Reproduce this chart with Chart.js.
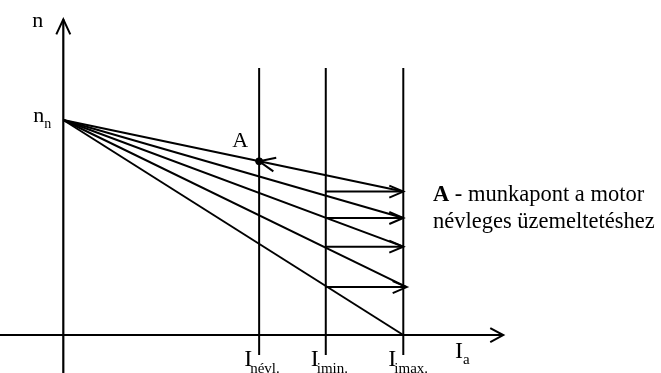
<!DOCTYPE html>
<html>
<head>
<meta charset="utf-8">
<script src="https://cdn.jsdelivr.net/npm/chart.js@4.4.1/dist/chart.umd.min.js"></script>
<style>
  html, body { margin: 0; padding: 0; background: #fff; }
  #abra { display: block; }
</style>
</head>
<body>
<canvas id="abra" width="661" height="373"></canvas>
<script>
// Adatok (tetszőleges egységek: Ia vízszintesen, n függőlegesen)
const nNevleges = 10;                         // n_n, az üresjárási fordulatszám
const aramJelek = ['névl.', 'imin.', 'imax.'];
const aramErtekek = [5.76, 7.72, 10.0];       // I_névl., I_imin., I_imax.
// jelleggörbék végpontjai I_imax-nál (felülről lefelé)
const jellegVegX = [10.0, 10.0, 10.0, 10.1, 10.0];
const jellegVegY = [6.67, 5.44, 4.11, 2.23, 0];
// vízszintes nyilak (I_imin -> I_imax) magasságai
const lepcsoY = [6.67, 5.44, 4.11, 2.23];
const lepcsoVegX = [10.0, 10.0, 10.0, 10.1];
// A munkapont
const munkapontX = 5.76;
const munkapontY = 8.08;

const fekete = '#000000';

function vonal(pontok, vastag) {
    return {
        data: pontok,
        showLine: true,
        borderColor: fekete,
        borderWidth: vastag || 2,
        pointRadius: 0,
        fill: false
    };
}

const adatsorok = [];
// tengelyek
adatsorok.push(vonal([{x: -1.9, y: 0}, {x: 12.94, y: 0}], 2.2));
adatsorok.push(vonal([{x: 0, y: -1.8}, {x: 0, y: 14.68}], 2.2));
// függőleges áramvonalak
aramErtekek.forEach(i => adatsorok.push(vonal([{x: i, y: -0.93}, {x: i, y: 12.42}])));
// jelleggörbék n_n-ből
jellegVegY.forEach((y, k) => adatsorok.push(vonal([{x: 0, y: nNevleges}, {x: jellegVegX[k], y: y}])));
// vízszintes nyilak
lepcsoY.forEach((y, k) => adatsorok.push(vonal([{x: aramErtekek[1], y: y}, {x: lepcsoVegX[k], y: y}])));
// A pont
adatsorok.push({
    data: [{x: munkapontX, y: munkapontY}],
    showLine: false,
    pointRadius: 3.5,
    pointBackgroundColor: fekete,
    pointBorderColor: fekete
});

// nyílhegy rajzolása (nyitott, V alakú)
function nyilhegy(ctx, x0, y0, x1, y1, hossz, szel) {
    const a = Math.atan2(y1 - y0, x1 - x0);
    ctx.beginPath();
    ctx.moveTo(x1 - hossz * Math.cos(a) + szel * Math.sin(a), y1 - hossz * Math.sin(a) - szel * Math.cos(a));
    ctx.lineTo(x1, y1);
    ctx.lineTo(x1 - hossz * Math.cos(a) - szel * Math.sin(a), y1 - hossz * Math.sin(a) + szel * Math.cos(a));
    ctx.stroke();
}

const nyilakPlugin = {
    id: 'nyilak',
    afterDatasetsDraw(chart) {
        const ctx = chart.ctx;
        const xs = chart.scales.x, ys = chart.scales.y;
        const px = v => xs.getPixelForValue(v);
        const py = v => ys.getPixelForValue(v);
        ctx.save();
        ctx.strokeStyle = fekete;
        ctx.lineWidth = 2;
        ctx.lineJoin = 'miter';
        // tengely nyilak
        nyilhegy(ctx, px(0), py(0), px(12.94), py(0), 13, 7);
        nyilhegy(ctx, px(0), py(0), px(0), py(14.68), 15, 7);
        // vízszintes nyilak vége
        lepcsoY.forEach((y, k) => nyilhegy(ctx, px(aramErtekek[1]), py(y), px(lepcsoVegX[k]), py(y), 14, 6));
        // A <- felső jelleggörbe
        nyilhegy(ctx, px(jellegVegX[0]), py(jellegVegY[0]), px(munkapontX), py(munkapontY), 16, 7);
        ctx.restore();
    }
};

const feliratPlugin = {
    id: 'feliratok',
    afterDraw(chart) {
        const ctx = chart.ctx;
        const xs = chart.scales.x, ys = chart.scales.y;
        const px = v => xs.getPixelForValue(v);
        const py = v => ys.getPixelForValue(v);
        const betu = "'Liberation Serif', 'Times New Roman', serif";
        ctx.save();
        ctx.fillStyle = fekete;
        ctx.textBaseline = 'alphabetic';
        ctx.textAlign = 'left';
        // n tengely
        ctx.font = '22px ' + betu;
        ctx.fillText('n', px(0) - 31, 27);
        // n_n
        ctx.fillText('n', px(0) - 30, py(nNevleges) + 2);
        ctx.font = '14px ' + betu;
        ctx.fillText('n', px(0) - 19, py(nNevleges) + 8);
        // A
        ctx.font = '22px ' + betu;
        ctx.fillText('A', px(munkapontX) - 27, py(munkapontY) - 14);
        // áramok
        aramErtekek.forEach((i, k) => {
            ctx.font = '24px ' + betu;
            ctx.fillText('I', px(i) - 15, 366);
            ctx.font = '15px ' + betu;
            ctx.fillText(aramJelek[k], px(i) - 9, 373);
        });
        // I_a
        ctx.font = '24px ' + betu;
        ctx.fillText('I', 455, 358);
        ctx.font = '15px ' + betu;
        ctx.fillText('a', 463, 364);
        // magyarázat
        ctx.font = 'bold 22.5px ' + betu;
        ctx.fillText('A', 433, 201);
        const w = ctx.measureText('A').width;
        ctx.font = '22.5px ' + betu;
        ctx.fillText(' - munkapont a motor', 433 + w, 201);
        ctx.fillText('névleges üzemeltetéshez', 433, 228);
        ctx.restore();
    }
};

const ctx = document.getElementById('abra').getContext('2d');
new Chart(ctx, {
    type: 'scatter',
    data: { datasets: adatsorok },
    options: {
        responsive: false,
        devicePixelRatio: 1,
        animation: false,
        layout: { padding: 0, autoPadding: false },
        scales: {
            x: { type: 'linear', display: false, min: -1.862, max: 17.58 },
            y: { type: 'linear', display: false, min: -1.767, max: 15.58 }
        },
        plugins: {
            legend: { display: false },
            tooltip: { enabled: false }
        }
    },
    plugins: [nyilakPlugin, feliratPlugin]
});
</script>
</body>
</html>
